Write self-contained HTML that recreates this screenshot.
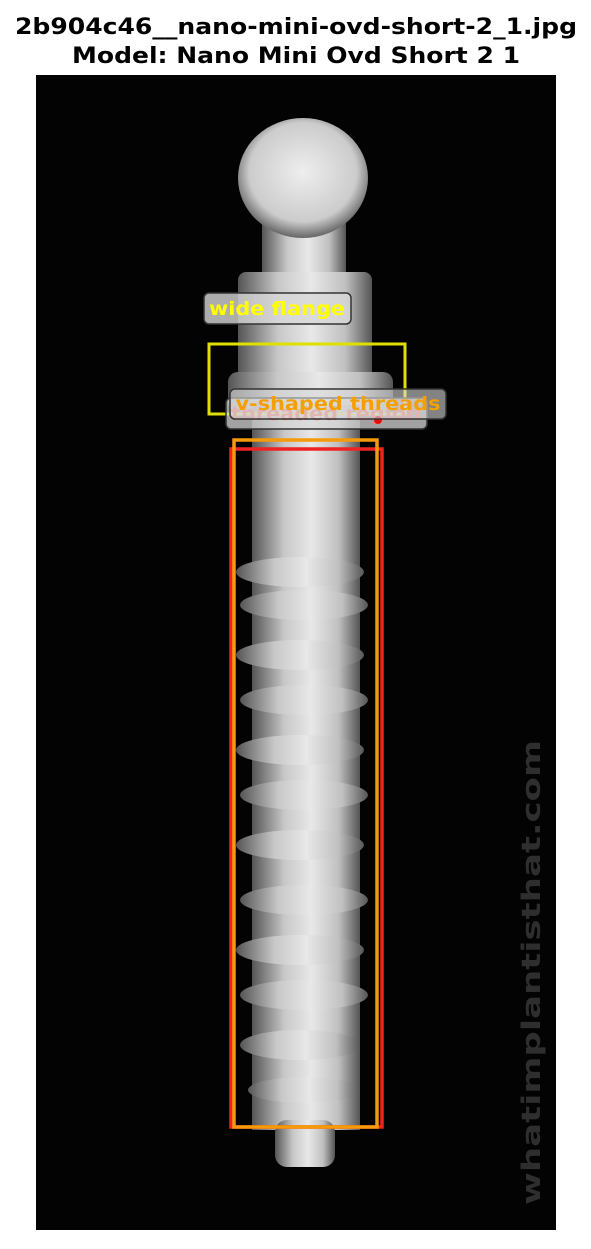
<!DOCTYPE html>
<html><head><meta charset="utf-8"><style>
body{margin:0;background:#fff;width:591px;height:1245px;overflow:hidden;font-family:"DejaVu Sans","Liberation Sans",sans-serif}
</style></head><body>
<svg width="591" height="1245">
<defs>
<linearGradient id="g" x1="0" x2="1" y1="0" y2="0">
<stop offset="0" stop-color="#555"/><stop offset="0.3" stop-color="#c8c8c8"/><stop offset="0.55" stop-color="#e8e8e8"/><stop offset="0.8" stop-color="#c0c0c0"/><stop offset="1" stop-color="#555"/>
</linearGradient>
<radialGradient id="rg" cx="0.5" cy="0.45" r="0.55"><stop offset="0" stop-color="#eee"/><stop offset="0.75" stop-color="#ccc"/><stop offset="1" stop-color="#666"/></radialGradient>
</defs>
<text x="296" y="34" text-anchor="middle" font-size="22" font-weight="bold" textLength="562" lengthAdjust="spacingAndGlyphs">2b904c46__nano-mini-ovd-short-2_1.jpg</text>
<text x="296" y="63" text-anchor="middle" font-size="22" font-weight="bold" textLength="448" lengthAdjust="spacingAndGlyphs">Model: Nano Mini Ovd Short 2 1</text>
<g>
<rect x="36" y="75" width="520" height="1155" fill="#030303"/>
<rect x="262" y="215" width="84" height="65" fill="url(#g)"/>
<ellipse cx="303" cy="178" rx="65" ry="60" fill="url(#rg)"/>
<rect x="238" y="272" width="134" height="108" rx="8" fill="url(#g)"/>
<rect x="228" y="372" width="165" height="40" rx="10" fill="url(#g)"/>
<rect x="252" y="405" width="108" height="725" fill="url(#g)"/>
<g fill="url(#g)">
<ellipse cx="300" cy="572" rx="64" ry="15"/><ellipse cx="304" cy="605" rx="64" ry="15"/>
<ellipse cx="300" cy="655" rx="64" ry="15"/><ellipse cx="304" cy="700" rx="64" ry="15"/>
<ellipse cx="300" cy="750" rx="64" ry="15"/><ellipse cx="304" cy="795" rx="64" ry="15"/>
<ellipse cx="300" cy="845" rx="64" ry="15"/><ellipse cx="304" cy="900" rx="64" ry="15"/>
<ellipse cx="300" cy="950" rx="64" ry="15"/><ellipse cx="304" cy="995" rx="64" ry="15"/>
<ellipse cx="300" cy="1045" rx="60" ry="15"/><ellipse cx="304" cy="1090" rx="56" ry="13"/>
</g>
<rect x="275" y="1120" width="60" height="47" rx="12" fill="url(#g)"/>
<text transform="translate(540,1205) rotate(-90)" font-size="26" font-weight="bold" fill="#2e2e2e" textLength="465" lengthAdjust="spacingAndGlyphs">whatimplantisthat.com</text>
</g>
<rect x="209" y="344" width="196" height="70" fill="none" stroke="#e0e000" stroke-width="3"/>
<rect x="231" y="449" width="151" height="678" fill="none" stroke="#ee2222" stroke-width="3.5"/>
<rect x="234" y="440" width="143" height="687" fill="none" stroke="#f59a0a" stroke-width="3.5"/>
<g>
<rect x="204" y="293" width="147" height="31" rx="5" fill="#d8d8d8" fill-opacity="0.8" stroke="#333" stroke-width="1.5"/>
<text x="277" y="315" text-anchor="middle" font-size="19" font-weight="bold" fill="#ffff00" textLength="136" lengthAdjust="spacingAndGlyphs">wide flange</text></g>
<g>
<rect x="226" y="398" width="201" height="31" rx="5" fill="#d8d8d8" fill-opacity="0.75" stroke="#333" stroke-width="1.5"/>
<text x="326" y="420" text-anchor="middle" font-size="19" font-weight="bold" fill="#f08080" textLength="190" lengthAdjust="spacingAndGlyphs">threaded region</text>
<circle cx="378" cy="420" r="4" fill="#e01010"/></g>
<g>
<rect x="230" y="389" width="216" height="30" rx="5" fill="#d8d8d8" fill-opacity="0.6" stroke="#333" stroke-width="1.5"/>
<text x="338" y="410" text-anchor="middle" font-size="19" font-weight="bold" fill="#f5a000" textLength="205" lengthAdjust="spacingAndGlyphs">v-shaped threads</text></g>
</svg>
</body></html>
